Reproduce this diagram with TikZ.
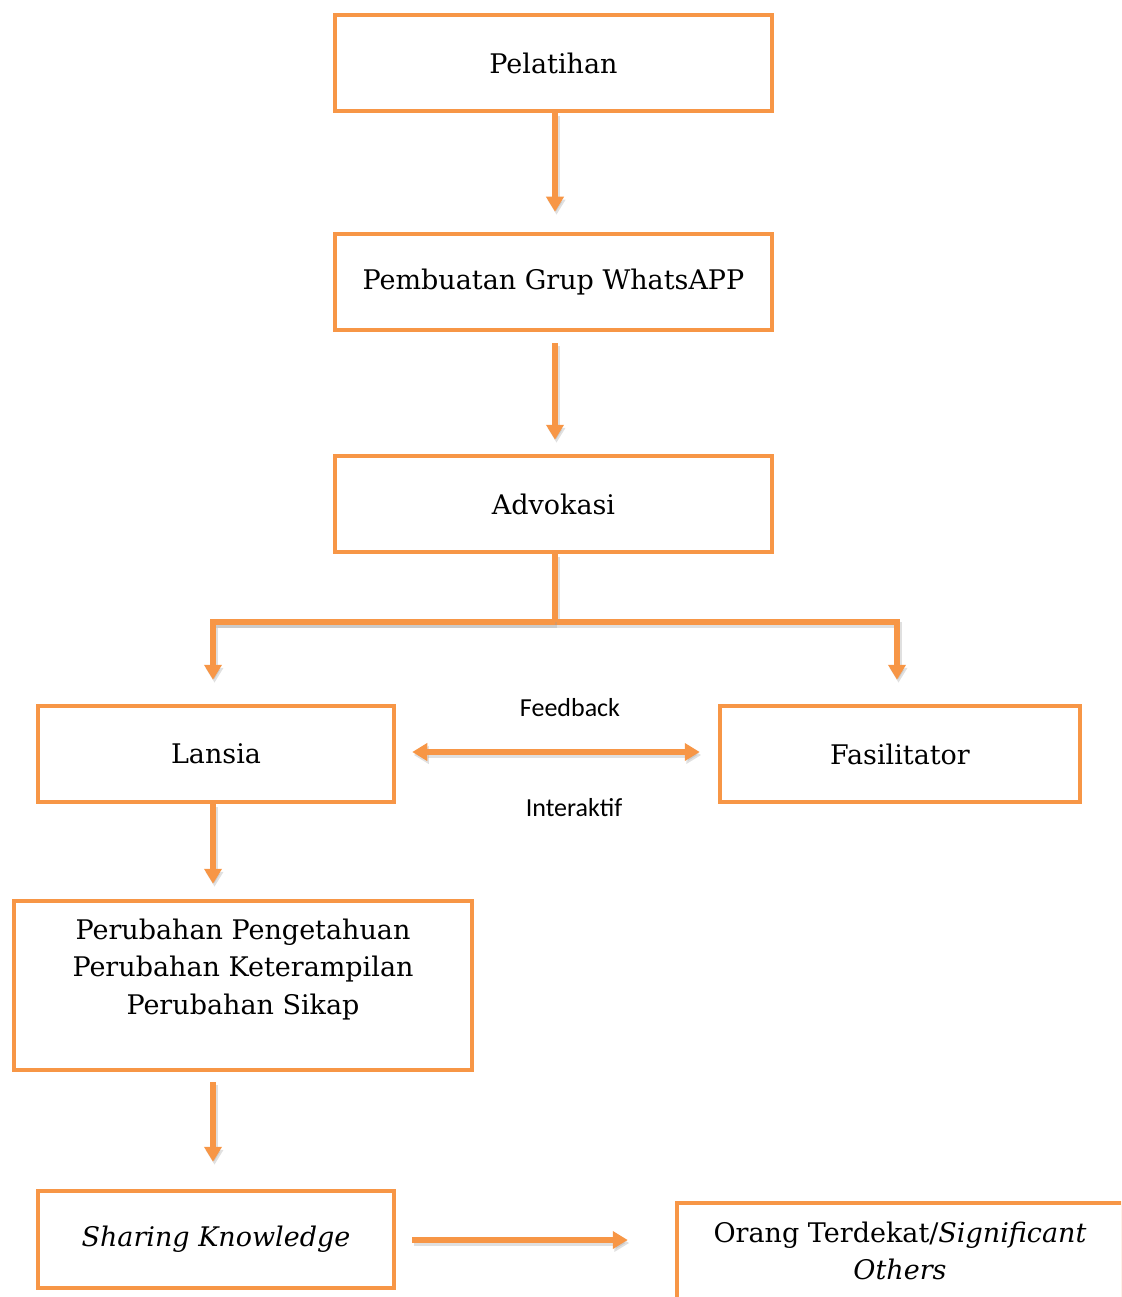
\documentclass[tikz,border=0pt]{standalone}
\usepackage{fontspec}
\setmainfont{DejaVu Serif}
\newfontfamily\lblfont{Carlito}
\usepackage{tikz}
\usetikzlibrary{arrows.meta, calc, positioning}
\definecolor{rorange}{HTML}{F79646}
\definecolor{rshadow}{HTML}{9A9A9A}
\tikzset{
  flowbox/.style  = {draw=rorange, line width=4.5pt, fill=white,
                     minimum width=437pt, minimum height=96pt, inner sep=0pt,
                     font=\fontsize{27}{37.5}\selectfont, align=center},
  flowarr/.style  = {draw=rorange, line width=5.5pt,
                     -{Triangle[length=15pt, width=17pt]},
                     preaction={draw=rshadow, opacity=0.3, line width=6.5pt,
                                transform canvas={shift={(1.5pt,-3pt)}}}},
  flowline/.style = {draw=rorange, line width=5.5pt,
                     preaction={draw=rshadow, opacity=0.3, line width=6.5pt,
                                transform canvas={shift={(1.5pt,-3pt)}}}},
  sidelab/.style  = {font=\lblfont\fontsize{26}{30}\selectfont, inner sep=0pt},
}

\begin{document}
\begin{tikzpicture}[x=1pt, y=-1pt]
  \useasboundingbox (0,0) rectangle (1121,1297);
  \clip (0,0) rectangle (1121,1297);
  % boxes
  \node[flowbox] (pel) at (553.5,63) {Pelatihan};
  \node[flowbox] (grp) at (553.5,282) {Pembuatan Grup WhatsAPP};
  \node[flowbox] (adv) at (553.5,504) {Advokasi};
  \node[flowbox, minimum width=356pt] (lan) at (216,754) {Lansia};
  \node[flowbox, minimum width=360pt] (fas) at (900,754) {Fasilitator};
  \node[flowbox, minimum width=458pt, minimum height=169pt] (per) at (243,985.5) {};
  \node[font=\fontsize{27}{37.5}\selectfont, align=center, anchor=north, inner sep=0pt]
    (pertxt) at ($(per.north)+(0,20)$)
    {Perubahan Pengetahuan\\Perubahan Keterampilan\\Perubahan Sikap};
  \node[flowbox, minimum width=356pt, minimum height=97pt] (shr) at (216,1239.5)
    {\textit{Sharing Knowledge}};
  \node[flowbox, minimum width=446pt] (org) at (900,1251)
    {Orang Terdekat/\textit{Significant}\\\textit{Others}};
  % branch points
  \coordinate (split) at (555,622);
  \coordinate (splitL) at (213,622);
  \coordinate (splitR) at (897,622);
  % connectors
  \draw[flowarr, shorten >=20pt] (pel.south -| 555,0) -- (grp.north -| 555,0);
  \draw[flowarr, shorten <=11pt, shorten >=14pt] (grp.south -| 555,0) -- (adv.north -| 555,0);
  \draw[flowline] (adv.south -| split) -- (split);
  \draw[flowarr, shorten >=24pt] (splitL) -- (split) -- (splitR) -- (fas.north -| splitR);
  \draw[flowarr, shorten >=24pt] (split) -- (splitL) -- (lan.north -| splitL);
  \draw[flowarr, {Triangle[length=15pt, width=17pt]}-{Triangle[length=15pt, width=17pt]},
        shorten <=16pt, shorten >=18pt] (lan.east |- 0,752) -- (fas.west |- 0,752);
  \node[sidelab] (fb) at (570,708) {Feedback};
  \node[sidelab] (ia) at (574,808) {Interaktif};
  \draw[flowarr, shorten >=15pt] (lan.south -| 213,0) -- (per.north -| 213,0);
  \draw[flowarr, shorten <=10pt, shorten >=27pt] (per.south -| 213,0) -- (shr.north -| 213,0);
  \draw[flowarr, shorten <=16pt, shorten >=47pt] (shr.east |- 0,1240) -- (org.west |- 0,1240);
\end{tikzpicture}
\end{document}
